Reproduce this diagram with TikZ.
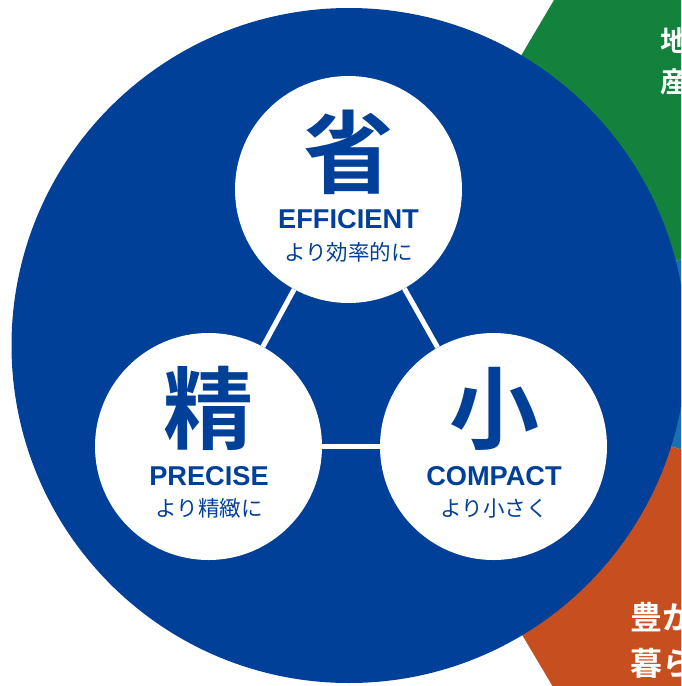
\documentclass[tikz,border=0pt]{standalone}
\usepackage{fontspec}
\newfontfamily\jp{Noto Sans CJK JP}
\newfontfamily\jpb{Noto Sans CJK JP Bold}
\newfontfamily\hel{Liberation Sans}
\definecolor{mainblue}{RGB}{0,64,152}
\definecolor{secgreen}{RGB}{18,130,60}
\definecolor{secorange}{RGB}{199,78,31}
\definecolor{seclblue}{RGB}{24,112,176}
\tikzset{
  pillar/.style={circle, fill=white, minimum size=227pt, inner sep=0pt},
  kanji/.style={text=mainblue, inner sep=0pt, font=\jpb\fontsize{90}{90}\selectfont},
  eng/.style={text=mainblue, inner sep=0pt, font=\hel\bfseries\fontsize{27.2}{27.2}\selectfont},
  jpsub/.style={text=mainblue, inner sep=0pt, font=\jp\fontsize{21.5}{21.5}\selectfont},
  link/.style={draw=white, line width=5pt},
  sidetext/.style={text=white, inner sep=0pt, anchor=north west, align=left}
}
\begin{document}
\begin{tikzpicture}[x=1pt,y=-1pt]
\useasboundingbox (0,0) rectangle (681,686);
\clip (0,0) rectangle (681,686);
\coordinate (c) at (350,345);
% outer sectors
\fill[secgreen] (c) -- ++(-59.4:560) arc[start angle=-59.4, end angle=-14.5, radius=560] -- cycle;
\fill[seclblue] (c) -- ++(-14.5:560) arc[start angle=-14.5, end angle=17.5, radius=560] -- cycle;
\fill[secorange] (c) -- ++(17.5:560) arc[start angle=17.5, end angle=59.3, radius=560] -- cycle;
% main circle
\fill[mainblue] (349,345.5) circle[radius=337.5];
% pillars
\node[pillar] (top) at (348.5,189.5) {};
\node[pillar] (lft) at (208.5,446.5) {};
\node[pillar] (rgt) at (493.5,446.5) {};
\draw[link] (top) -- (lft);
\draw[link] (top) -- (rgt);
\draw[link] (lft) -- (rgt);
% texts
\node[kanji] (k1) at (348.5,152) {省};
\node[eng] (e1) at (348.5,219) {EFFICIENT};
\node[jpsub] (j1) at (348.5,252.5) {より効率的に};
\node[kanji] (k2) at (208,408.5) {精};
\node[eng] (e2) at (209,476) {PRECISE};
\node[jpsub] (j2) at (209,508) {より精緻に};
\node[kanji] (k3) at (494,409) {小};
\node[eng] (e3) at (494,476) {COMPACT};
\node[jpsub] (j3) at (494,508) {より小さく};
% side texts (cut by the picture's edge, as in the reference)
\node[sidetext, font=\jpb\fontsize{28}{28}\selectfont] (g1) at (660,27) {地};
\node[sidetext, font=\jpb\fontsize{28}{28}\selectfont] (g2) at (660,68) {産};
\node[sidetext, font=\jpb\fontsize{32}{32}\selectfont] (o1) at (630,602) {豊か};
\node[sidetext, font=\jpb\fontsize{32}{32}\selectfont] (o2) at (630,648) {暮ら};
\end{tikzpicture}
\end{document}
